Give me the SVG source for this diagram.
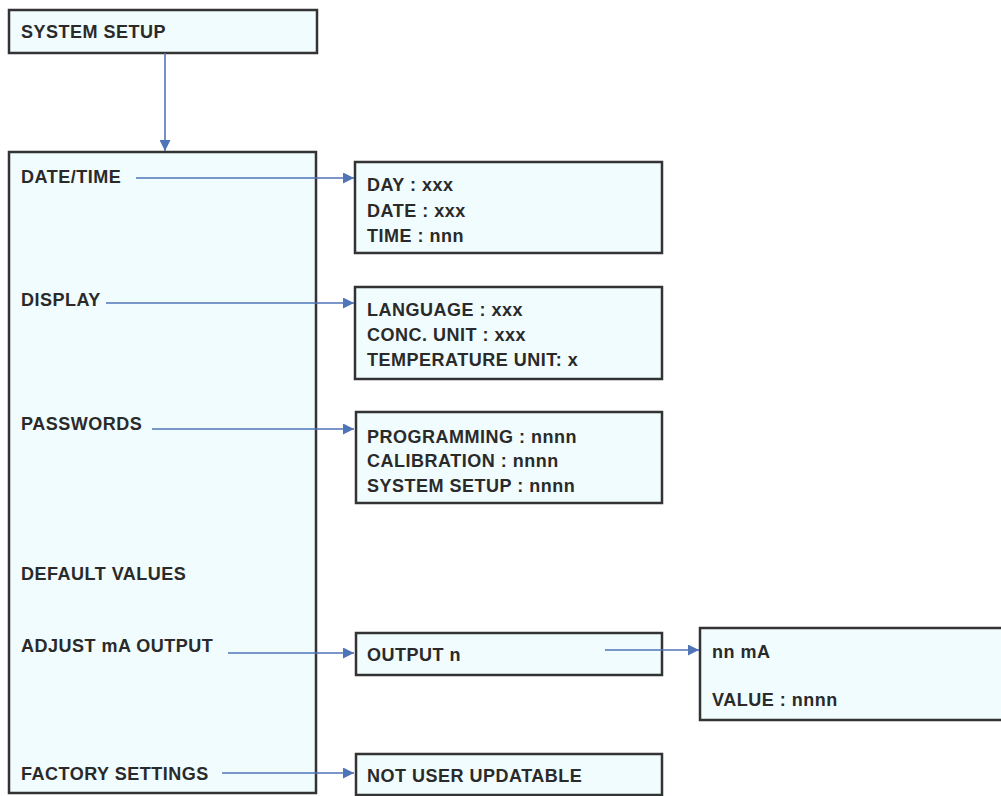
<svg xmlns="http://www.w3.org/2000/svg" width="1001" height="796" viewBox="0 0 1001 796">
<style>
.box{fill:#f0fcfd;stroke:#333;stroke-width:2.5}
.t{font-family:"Liberation Sans",Arial,sans-serif;font-weight:bold;font-size:18px;letter-spacing:0.5px;fill:#2a2a2a}
.c{stroke:#4f74b8;stroke-width:1.6;fill:none;marker-end:url(#ah)}
</style>
<defs>
<marker id="ah" viewBox="0 0 10 10" refX="10" refY="5" markerWidth="11" markerHeight="11" markerUnits="userSpaceOnUse" orient="auto"><path d="M0,0 L10,5 L0,10 z" fill="#4f74b8"/></marker>
</defs>
<rect width="1001" height="796" fill="#fff"/>
<g id="system-setup"><rect class="box" x="9" y="10" width="308" height="43"/><text class="t" x="21" y="38">SYSTEM SETUP</text></g>
<g id="menu"><rect class="box" x="9" y="152" width="307" height="641"/>
<text class="t" x="21" y="183">DATE/TIME</text>
<text class="t" x="21" y="306">DISPLAY</text>
<text class="t" x="21" y="430">PASSWORDS</text>
<text class="t" x="21" y="580">DEFAULT VALUES</text>
<text class="t" x="21" y="652">ADJUST mA OUTPUT</text>
<text class="t" x="21" y="780">FACTORY SETTINGS</text></g>
<g id="datetime"><rect class="box" x="355" y="162" width="307" height="91"/>
<text class="t" x="367" y="191">DAY : xxx</text><text class="t" x="367" y="217">DATE : xxx</text><text class="t" x="367" y="242">TIME : nnn</text></g>
<g id="display"><rect class="box" x="355" y="287" width="307" height="92"/>
<text class="t" x="367" y="316">LANGUAGE : xxx</text><text class="t" x="367" y="341">CONC. UNIT : xxx</text><text class="t" x="367" y="366">TEMPERATURE UNIT: x</text></g>
<g id="passwords"><rect class="box" x="356" y="412" width="306" height="91"/>
<text class="t" x="367" y="443">PROGRAMMING : nnnn</text><text class="t" x="367" y="467">CALIBRATION : nnnn</text><text class="t" x="367" y="492">SYSTEM SETUP : nnnn</text></g>
<g id="output"><rect class="box" x="356" y="633" width="306" height="42"/><text class="t" x="367" y="661">OUTPUT n</text></g>
<g id="value"><rect class="box" x="700" y="628" width="310" height="92"/>
<text class="t" x="712" y="658">nn mA</text><text class="t" x="712" y="706">VALUE : nnnn</text></g>
<g id="factory"><rect class="box" x="356" y="754" width="306" height="41"/><text class="t" x="367" y="782">NOT USER UPDATABLE</text></g>
<g id="connectors">
<path class="c" d="M165,53 V151"/>
<path class="c" d="M136,178 H354"/>
<path class="c" d="M106,303 H354"/>
<path class="c" d="M152,429 H354"/>
<path class="c" d="M228,653 H354"/>
<path class="c" d="M605,650 H699"/>
<path class="c" d="M222,773 H354"/>
</g>
</svg>
